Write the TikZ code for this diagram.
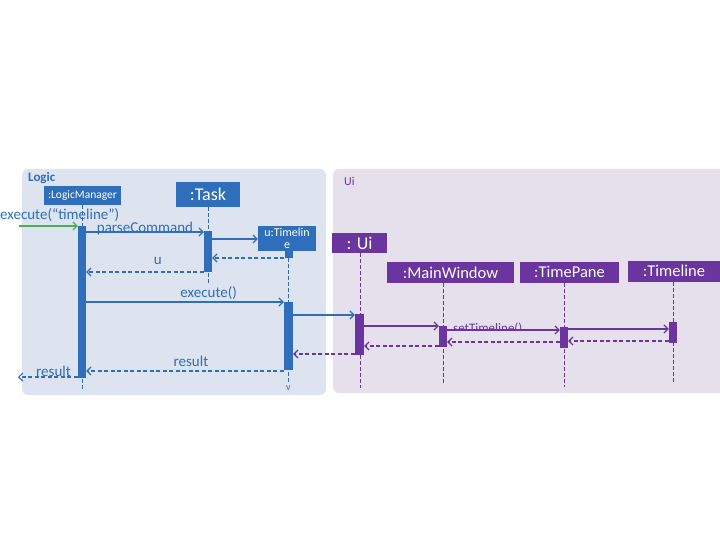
\documentclass[tikz,border=0pt]{standalone}
\usepackage{fontspec}
\setmainfont{Carlito}
\usetikzlibrary{arrows.meta}
\definecolor{lblue}{HTML}{2F6EBA}
\definecolor{lpurp}{HTML}{6B35A0}
\definecolor{lgreen}{HTML}{4CAF50}
\definecolor{logicbg}{HTML}{DDE3EF}
\definecolor{uibg}{HTML}{E6DFEC}
\begin{document}
\begin{tikzpicture}[x=1pt,y=-1pt,
  group/.style={rounded corners=6pt,draw=none},
  objB/.style={fill=lblue,text=white,inner sep=0pt,font=\fontsize{#1}{#1}\selectfont},
  objP/.style={fill=lpurp,text=white,inner sep=0pt,font=\fontsize{#1}{#1}\selectfont},
  actB/.style={fill=lblue,draw=none,minimum width=8pt,inner sep=0pt},
  actP/.style={fill=lpurp,draw=none,minimum width=8pt,inner sep=0pt},
  lifeB/.style={draw=lblue,dashed,dash pattern=on 3.5pt off 2.5pt,line width=1pt},
  lifeP/.style={draw=lpurp,dashed,dash pattern=on 3.5pt off 2.5pt,line width=1pt},
  tip/.style={-{Straight Barb[length=4pt,width=8pt,line width=1.2pt]}},
  msgB/.style={draw=lblue,line width=1.2pt,tip},
  retB/.style={draw=lblue,line width=1.2pt,dash pattern=on 4pt off 2.5pt,tip},
  msgP/.style={draw=lpurp,line width=1.2pt,tip},
  retP/.style={draw=lpurp,line width=1.2pt,dash pattern=on 4pt off 2.5pt,tip},
  lblB/.style={text=lblue,inner sep=0pt,font=\fontsize{15}{15}\selectfont},
]
\useasboundingbox (0,0) rectangle (720,540);
\fill[white] (0,0) rectangle (720,540);
% groups
\fill[logicbg,group] (22,169) rectangle (326,395);
\fill[uibg,group] (333,169) rectangle (740,393);
\node[text=lblue,font=\bfseries\fontsize{13}{13}\selectfont,anchor=west,inner sep=0pt] (logiclbl) at (28,178) {Logic};
\node[text=lpurp,font=\fontsize{12}{12}\selectfont,anchor=west,inner sep=0pt] (uilbl) at (344,181) {Ui};

% objects
\node[objB=11.5,minimum width=77pt,minimum height=19pt] (lm) at (82.5,195.5) {:LogicManager};
\node[objB=18,minimum width=64pt,minimum height=25pt] (task) at (208,194.5) {:Task};
\node[objB=12,minimum width=58pt,minimum height=25pt,align=center] (tl) at (287,238.5) {u:Timelin\\[0pt]e};
\node[fill=lblue,minimum width=8pt,minimum height=7pt,inner sep=0pt,anchor=north] (tlstub) at (288.5,251) {};
\node[objP=18,minimum width=55pt,minimum height=20pt] (ui) at (359.5,243) {: Ui};
\node[objP=16.5,minimum width=127pt,minimum height=21pt] (mw) at (450.5,272.5) {:MainWindow};
\node[objP=16.5,minimum width=99pt,minimum height=21pt] (tp) at (569.5,272.5) {\raisebox{2pt}{:TimePane}};
\node[objP=16.5,minimum width=92pt,minimum height=21pt] (tlu) at (674,271.5) {\raisebox{1pt}{:Timeline}};

% lifeline ends
\coordinate (lmEnd) at (82,389);
\coordinate (taskEnd) at (208,284);
\coordinate (tlEnd) at (288.5,382);
\coordinate (uiEnd) at (360,388);
\coordinate (mwEnd) at (443,385);
\coordinate (tpEnd) at (564,387);
\coordinate (tluEnd) at (673,382);

\draw[lifeB] (lm.south -| lmEnd) -- (lmEnd);
\draw[lifeB] (task.south) -- (taskEnd);
\draw[lifeB] (tlstub.south) -- (tlEnd);
\draw[lifeP] (ui.south -| uiEnd) -- (uiEnd);
\draw[lifeP] (mw.south -| mwEnd) -- (mwEnd);
\draw[lifeP] (tp.south -| tpEnd) -- (tpEnd);
\draw[lifeP] (tlu.south -| tluEnd) -- (tluEnd);
\node[text=lblue,inner sep=0pt,font=\fontsize{10}{10}\selectfont] (vmark) at (288.5,388) {v};

% activation bars
\node[actB,minimum height=152pt] (lmA) at (82,302) {};
\node[actB,minimum height=41pt] (taskA) at (208,251.5) {};
\node[actB,minimum width=9pt,minimum height=68pt] (tlA) at (288.5,336) {};
\node[actP,minimum width=9pt,minimum height=41pt] (uiA) at (359.5,334.5) {};
\node[actP,minimum height=21pt] (mwA) at (443,336.5) {};
\node[actP,minimum height=21pt] (tpA) at (564,337.5) {};
\node[actP,minimum height=21pt] (tluA) at (673,332.5) {};

% start / end points
\coordinate (ext) at (19,226);
\coordinate (extR) at (18,377);

% messages
\draw[draw=lgreen,line width=1.2pt,tip] (ext) -- (lmA.west |- ext);
\node[lblB,anchor=base west] (l1) at (0,220) {execute(“timeline”)};
\draw[msgB] (lmA.east |- 0,232) -- node[lblB,above=-3.5pt,pos=0.5] (l2) {parseCommand} (taskA.west |- 0,232);
\draw[msgB] (taskA.east |- 0,239) -- (tl.west |- 0,239);
\draw[retB] (tlstub.west |- 0,258) -- (taskA.east |- 0,258);
\draw[retB] (taskA.west |- 0,272) -- node[lblB,above=7pt,pos=0.39] (l3) {u} (lmA.east |- 0,272);
\draw[msgB] (lmA.east |- 0,302) -- node[lblB,above=1.5pt,pos=0.62] (l4) {execute()} (tlA.west |- 0,302);
\draw[msgB] (tlA.east |- 0,315) -- (uiA.west |- 0,315);
\draw[retP] (uiA.west |- 0,354) -- (tlA.east |- 0,354);
\draw[retB] (tlA.west |- 0,371) -- node[lblB,above=4pt,pos=0.47] (l5) {result} (lmA.east |- 0,371);
\draw[retB] (lmA.west |- 0,377) -- (extR);
\node[lblB,anchor=base west] (l6) at (36,376) {result};

\draw[msgP] (uiA.east |- 0,326) -- (mwA.west |- 0,326);
\draw[retP] (mwA.west |- 0,346) -- (uiA.east |- 0,346);
\begin{scope}
\clip (447,300) rectangle (560,328.5);
\node[text=lpurp,inner sep=0pt,font=\fontsize{13}{13}\selectfont,anchor=base west] (l7) at (453,332.5) {setTimeline()};
\end{scope}
\draw[msgP] (mwA.east |- 0,330) -- (tpA.west |- 0,330);
\draw[retP] (tpA.west |- 0,342) -- (mwA.east |- 0,342);
\draw[msgP] (tpA.east |- 0,329) -- (tluA.west |- 0,329);
\draw[retP] (tluA.west |- 0,341) -- (tpA.east |- 0,341);
\end{tikzpicture}
\end{document}
